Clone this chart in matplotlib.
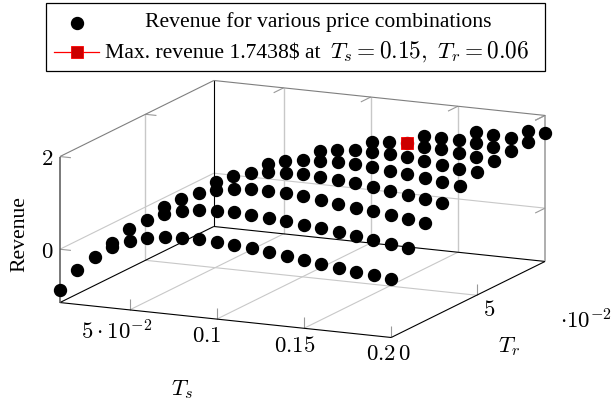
import numpy as np
import matplotlib
matplotlib.use('Agg')
import matplotlib.pyplot as plt
from matplotlib.lines import Line2D
from matplotlib.patches import Rectangle

plt.rcParams['font.family'] = ['Liberation Serif', 'DejaVu Serif']
plt.rcParams['mathtext.fontset'] = 'cm'

#price grid
ts_values = [round(0.01 * n, 2) for n in range(1, 21)]
tr_values = [round(0.01 * n, 2) for n in range(0, 10)]

#revenue, one list per Tr, each list ends at Ts = 0.2
rev_tr00 = [-0.877, -0.416, -0.088, 0.158, 0.327, 0.431, 0.492, 0.525, 0.537, 0.518,
            0.487, 0.453, 0.416, 0.369, 0.323, 0.276, 0.230, 0.190, 0.150, 0.112]
rev_tr01 = [0.031, 0.372, 0.612, 0.774, 0.885, 0.946, 0.970, 0.982, 0.964,
            0.939, 0.901, 0.867, 0.821, 0.775, 0.737, 0.690, 0.644, 0.604]
rev_tr02 = [0.704, 0.928, 1.090, 1.194, 1.262, 1.295, 1.298, 1.282,
            1.257, 1.217, 1.177, 1.131, 1.099, 1.046, 1.007, 0.960]
rev_tr03 = [1.152, 1.314, 1.412, 1.473, 1.497, 1.515, 1.490,
            1.466, 1.434, 1.394, 1.354, 1.301, 1.255, 1.215]
rev_tr04 = [1.430, 1.541, 1.602, 1.620, 1.638, 1.628,
            1.597, 1.563, 1.525, 1.479, 1.433, 1.393]
rev_tr05 = [1.614, 1.675, 1.702, 1.705, 1.695, 1.670, 1.630, 1.590, 1.544, 1.506]
rev_tr06 = [1.705, 1.732, 1.7438, 1.716, 1.700, 1.660, 1.620, 1.574]
rev_tr07 = [1.732, 1.728, 1.719, 1.687, 1.654, 1.607]
rev_tr08 = [1.703, 1.684, 1.659, 1.619]
rev_tr09 = [1.635, 1.619]
rev_rows = [rev_tr00, rev_tr01, rev_tr02, rev_tr03, rev_tr04,
            rev_tr05, rev_tr06, rev_tr07, rev_tr08, rev_tr09]

best_ts = 0.15
best_tr = 0.06
best_rev = 1.7438

ts_ticks = [0.05, 0.1, 0.15, 0.2]
tr_ticks = [0, 0.05]
rev_ticks = [0, 2]

ts_lo, ts_hi = 0.01, 0.2
tr_lo, tr_hi = 0.0, 0.09
rev_lo, rev_hi = -1.15, 2.0

W, H = 615, 407
fig = plt.figure(figsize=(W / 100, H / 100), dpi=100)

#square 3d axes, bigger than the figure so nothing gets clipped
S = 700
cx, cy = 302.5, 198
ax = fig.add_axes([(cx - 0.5135 * S) / W, (cy - 0.5135 * S) / H, S / W, S / H],
                  projection='3d', proj_type='ortho', computed_zorder=False)
ax.view_init(elev=13.2, azim=-65.2)
ax.set_box_aspect((365, 367, 150), zoom=523 / S)
ax.set_xlim(ts_lo, ts_hi, view_margin=0)
ax.set_ylim(tr_lo, tr_hi, view_margin=0)
ax.set_zlim(rev_lo, rev_hi, view_margin=0)
ax.set_axis_off()


def seg(p, q, color, lw=0.8, z=1):
    ax.plot([p[0], q[0]], [p[1], q[1]], [p[2], q[2]], color=color, lw=lw, zorder=z, solid_capstyle='butt')


grid_c = '#c8c8c8'
tick_c = '#999999'
edge_c = '#7f7f7f'

#grid lines
for t in ts_ticks[:-1]:
    seg((t, tr_lo, rev_lo), (t, tr_hi, rev_lo), grid_c)
    seg((t, tr_hi, rev_lo), (t, tr_hi, rev_hi), grid_c, lw=1.0)
    seg((t, tr_lo, rev_lo), (t, tr_lo, rev_lo + 0.24), tick_c)
    seg((t, tr_hi, rev_hi), (t, tr_hi - 0.0058, rev_hi), tick_c)
seg((ts_hi, tr_lo, rev_lo), (ts_hi, tr_lo, rev_lo + 0.24), tick_c)
seg((ts_hi, tr_hi, rev_hi), (ts_hi, tr_hi - 0.0058, rev_hi), tick_c)

for t in tr_ticks[1:]:
    seg((ts_lo, t, rev_lo), (ts_hi, t, rev_lo), grid_c)
    seg((ts_lo, t, rev_lo), (ts_lo, t, rev_hi), grid_c, lw=1.0)
    seg((ts_hi, t, rev_lo), (ts_hi, t, rev_lo + 0.24), tick_c)
    seg((ts_lo, t, rev_hi), (ts_lo + 0.0063, t, rev_hi), tick_c)

for r in rev_ticks:
    if r != rev_hi:
        seg((ts_lo, tr_lo, r), (ts_lo, tr_hi, r), grid_c)
        seg((ts_lo, tr_hi, r), (ts_hi, tr_hi, r), grid_c)
    seg((ts_lo, tr_lo, r), (ts_lo + 0.0063, tr_lo, r), tick_c)
    seg((ts_hi, tr_hi, r), (ts_hi, tr_hi - 0.0058, r), tick_c)

#box
seg((ts_lo, tr_lo, rev_lo), (ts_hi, tr_lo, rev_lo), 'black', z=2)
seg((ts_hi, tr_lo, rev_lo), (ts_hi, tr_hi, rev_lo), 'black', z=2)
seg((ts_hi, tr_hi, rev_lo), (ts_lo, tr_hi, rev_lo), 'black', z=2)
seg((ts_lo, tr_hi, rev_lo), (ts_lo, tr_lo, rev_lo), 'black', z=2)
seg((ts_lo, tr_hi, rev_lo), (ts_lo, tr_hi, rev_hi), 'black', z=2)
seg((ts_lo, tr_lo, rev_lo), (ts_lo, tr_lo, rev_hi), '#555555', lw=1.1, z=2)
seg((ts_hi, tr_hi, rev_lo), (ts_hi, tr_hi, rev_hi), '#999999', lw=1.1, z=2)
seg((ts_lo, tr_lo, rev_hi), (ts_lo, tr_hi, rev_hi), edge_c, z=2)
seg((ts_lo, tr_hi, rev_hi), (ts_hi, tr_hi, rev_hi), edge_c, z=2)

#points
for tr, row in zip(tr_values, rev_rows):
    ts = ts_values[-len(row):]
    ax.plot(ts, [tr] * len(row), row, ls='none', marker='o', ms=8.6, mec='black', mfc='black', zorder=5)

ax.plot([best_ts], [best_tr], [best_rev], ls='none', marker='s', ms=8.0,
        mfc='#cc0000', mec='red', mew=0.6, zorder=6)


def label(x, y, s, size=16.5, **kw):
    fig.text(x / W, 1 - y / H, s, fontsize=size, ha='center', va='center', **kw)


label(117, 332, r'$5\cdot10^{-2}$')
label(207, 336, r'$0.1$')
label(295, 346, r'$0.15$')
label(381, 355, r'$0.2$')
label(404, 354, r'$0$')
label(489, 311, r'$5$')
label(586, 321, r'$\cdot10^{-2}$')
label(47, 159, r'$2$')
label(47, 252, r'$0$')
label(182, 390, r'$T_s$')
label(509, 347, r'$T_r$')
label(20, 234, 'Revenue', size=15.6, rotation=90)

#legend, first row is centred so it is put together by hand
fig.add_artist(Rectangle((45.5 / W, 1 - 71 / H), 499.5 / W, 68 / H, transform=fig.transFigure,
                         fill=False, ec='black', lw=0.9))
fig.add_artist(Line2D([77 / W], [1 - 23 / H], transform=fig.transFigure, ls='none', marker='o',
                      ms=8.6, mfc='black', mec='black'))
fig.add_artist(Line2D([54 / W, 99 / W], [1 - 52 / H, 1 - 52 / H], transform=fig.transFigure, color='red', lw=0.9))
fig.add_artist(Line2D([77 / W], [1 - 52 / H], transform=fig.transFigure, ls='none', marker='s',
                      ms=8.0, mfc='#cc0000', mec='red', mew=0.6))
label(318, 22, 'Revenue for various price combinations', size=15.6)
fig.text(105 / W, 1 - 58 / H, r'Max. revenue 1.7438\$ at', fontsize=15.6, ha='left', va='baseline')
fig.text(330 / W, 1 - 58 / H, r'$T_s=0.15,\ T_r=0.06$', fontsize=16.8, ha='left', va='baseline')

fig.savefig('out.png', dpi=100)
